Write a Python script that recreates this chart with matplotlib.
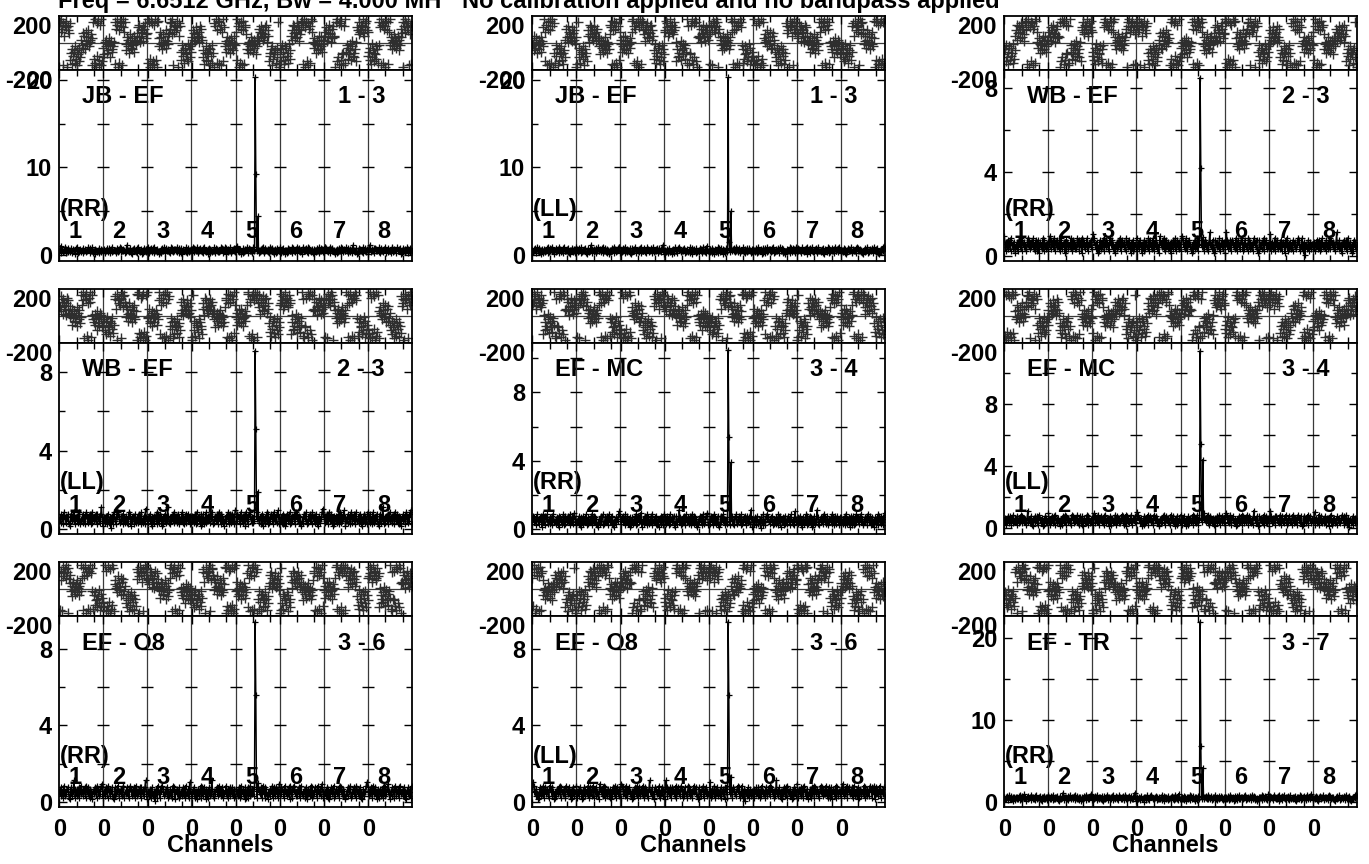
import numpy as np
import matplotlib
matplotlib.use("Agg")
import matplotlib.pyplot as plt
from matplotlib.ticker import FixedLocator, MultipleLocator, NullFormatter

plt.rcParams['font.family'] = ['Liberation Sans', 'DejaVu Sans']
plt.rcParams['font.weight'] = 'bold'

# ---------------- data ----------------
TITLE_LEFT = "Freq = 6.6512 GHz, Bw = 4.000 MH"
TITLE_RIGHT = "No calibration applied and no bandpass applied"
X_LABEL = "Channels"

BASELINES = ["JB - EF", "JB - EF", "WB - EF", "WB - EF", "EF - MC", "EF - MC",
             "EF - O8", "EF - O8", "EF - TR"]
POLS = ["(RR)", "(LL)", "(RR)", "(LL)", "(RR)", "(LL)", "(RR)", "(LL)", "(RR)"]
ANT_PAIRS = ["1 - 3", "1 - 3", "2 - 3", "2 - 3", "3 - 4", "3 - 4", "3 - 6", "3 - 6", "3 - 7"]
IF_LABELS = ["1", "2", "3", "4", "5", "6", "7", "8"]
CHANNEL_TICK_LABELS = ["0", "0", "0", "0", "0", "0", "0", "0"]
N_CHAN = 64
CHANNEL_MINOR = [25, 50]

AMP_TOP = [21.15, 21.15, 8.86, 9.49, 10.9, 11.9, 9.7, 9.7, 22.7]
AMP_BOTTOM = [-0.7, -0.7, -0.24, -0.26, -0.29, -0.38, -0.26, -0.26, -0.6]
AMP_MAJOR = [10, 10, 4, 4, 4, 4, 4, 4, 10]
AMP_MINOR = [5, 5, 2, 2, 2, 2, 2, 2, 5]
PHASE_RANGE = [-200, 200]
PHASE_TICKS = [-200, 200]

SPIKE_IF = 5
SPIKE_CHANNELS = [28, 29, 32]
SPIKE_PEAK = [20.3, 20.3, 8.5, 9.1, 10.5, 11.4, 9.4, 9.4, 22.0]
SPIKE_NEXT = [9.3, 1.5, 4.2, 5.1, 5.4, 5.4, 5.6, 5.6, 6.9]
SPIKE_SIDE = [4.4, 5.0, 0.9, 1.9, 3.9, 4.4, 1.0, 1.3, 4.2]

# which stored IF string each panel starts from, and whether it is read backwards
PANEL_IF_SHIFT = [0, 3, 5, 1, 6, 2, 7, 4, 2]
PANEL_REVERSED = [False, True, False, True, True, False, True, False, True]
PANEL_AMP_SHIFT = [0, 5, 2, 7, 3, 1, 6, 4, 5]

CODE = "0123456789abcdefghijklmnopqrstuvwxyz"
# phase per channel (code level -> -175 + 10*level deg), one string per IF
PHASE_CODE = [
    "uxqzs1wnvty0rupw5a2d8b3f6c19e47bkgpendqjhmrfkiol1x6z30w8y25v1z47",
    "e9ifkahcl7gjbdfix2szv0r3yuw1tzqxhcmfkaoiedlgnbjhpktmvirnqjuswlop",
    "z3x06y1w4v2z5x0ylfqhmdoigkrejnhpsxwoz1uqvrty0nwub5g8c3e9a6h4d7fb",
    "mhrkpjtlonqiumsk7c2a5f9b4e1d8g3aw0uz3ry2xs1vq4ztfjbmhdkgaliecnhg",
    "q5zu0w3sx1ry2tvodhaifcmgjbekh9lflsjqnupkrmtovinr4a8d1f6b9c3e7x20",
    "9d4g7b2f5e8a3h6cnrkvpulqwmtsjoxry2vz0tx4w1su3zyqielhagkcnjdmfbkh",
    "kqntjrmvpoislunm0x4z7w2y5v9a1u3zbg6e9hc5jf8a7di4trxoqvsuzpnwtyrq",
    "8b5e2h7c4a9f6d3gxtz1vw3su0yr2xqzgmdkiofljehnckgmsp0xuzqwtyr1vo2u",
]
# amplitude per channel (code level -> 0.05 + 0.09*level), one string per IF
AMP_CODE = [
    "4637528435607429542869753475826347362958164752835638472945372b64",
    "53748261473659283584716258364c7326475839473582646493725835846273",
    "746358293647518258263947473859623574682964827351473659285384726a",
    "3847562956374819472869536374829545367281746359283648572954738a62",
    "45638271638475923746582958473621463857923574862964738251473659b8",
    "63748529458361725736482938475a6146385729736482954573826164837529",
    "573846293647582148365c7263748259457368295483726136485729736489a2",
    "4638572957364821384759626473892545836279736485293647582854738c61",
]

# ---------------- layout ----------------
W, H = 1369, 864
COL_X = [59, 532, 1004]
ROW_Y = [16, 289, 562]
AX_W = 353
PH_H = 54
AMP_H = 191
FS = 17


def rect(x0, ytop, w, h):
    return [x0 / W, 1 - (ytop + h) / H, w / W, h / H]


def decode_phase(s):
    return np.array([-175 + 10 * CODE.index(ch) for ch in s], dtype=float)


def decode_amp(s):
    return np.array([0.05 + 0.09 * CODE.index(ch) for ch in s], dtype=float)


fig = plt.figure(figsize=(W / 100, H / 100), dpi=100)
fig.patch.set_facecolor('white')

n_if = len(IF_LABELS)
bounds = [k * N_CHAN - 0.5 for k in range(1, n_if)]
major_x = [k * N_CHAN for k in range(n_if)]
minor_x = [k * N_CHAN + m for k in range(n_if) for m in CHANNEL_MINOR]


def style_axes(ax):
    for s in ax.spines.values():
        s.set_linewidth(1.3)
        s.set_color('black')
    ax.set_xlim(-0.5, n_if * N_CHAN - 0.5)
    ax.xaxis.set_major_locator(FixedLocator(major_x))
    ax.xaxis.set_minor_locator(FixedLocator(minor_x))
    ax.tick_params(axis='both', which='both', direction='in', top=True, right=True,
                   labelsize=FS, width=1.0, color='black')
    ax.tick_params(axis='both', which='major', length=6)
    ax.tick_params(axis='both', which='minor', length=4)
    ax.tick_params(axis='y', pad=5)
    ax.tick_params(axis='x', pad=8)
    for b in bounds:
        ax.axvline(b, color='#3a3a3a', lw=0.9, zorder=1)


for p in range(9):
    r, c = divmod(p, 3)
    ax_ph = fig.add_axes(rect(COL_X[c], ROW_Y[r], AX_W, PH_H))
    ax_am = fig.add_axes(rect(COL_X[c], ROW_Y[r] + PH_H, AX_W, AMP_H))

    style_axes(ax_ph)
    ax_ph.set_ylim(*PHASE_RANGE)
    ax_ph.axhline(0, color='#3a3a3a', lw=0.9, zorder=1)

    style_axes(ax_am)
    ax_am.set_ylim(AMP_BOTTOM[p], AMP_TOP[p])
    ax_am.yaxis.set_major_locator(MultipleLocator(AMP_MAJOR[p]))
    ax_am.yaxis.set_minor_locator(MultipleLocator(AMP_MINOR[p]))

    for k in range(n_if):
        ps = PHASE_CODE[(k + PANEL_IF_SHIFT[p]) % n_if]
        as_ = AMP_CODE[(k + PANEL_AMP_SHIFT[p]) % n_if]
        if PANEL_REVERSED[p]:
            ps = ps[::-1]
        else:
            as_ = as_[::-1]
        ph = decode_phase(ps)
        am = decode_amp(as_)
        if k == SPIKE_IF - 1:
            am[SPIKE_CHANNELS[0]] = SPIKE_PEAK[p]
            am[SPIKE_CHANNELS[1]] = SPIKE_NEXT[p]
            am[SPIKE_CHANNELS[2]] = SPIKE_SIDE[p]
        xp = k * N_CHAN + np.arange(len(ph)) * N_CHAN / len(ph)
        xa = k * N_CHAN + np.arange(len(am)) * N_CHAN / len(am)
        ax_ph.plot(xp, ph, ls='none', marker='+', ms=7.5, mew=1.0, color='#2e2e2e', zorder=2)
        ax_am.plot(xa, am, color='black', lw=1.0, marker='+', ms=5, mew=0.9, zorder=3)

    ax_ph.set_yticks(PHASE_TICKS)
    ax_ph.set_yticklabels([str(v) for v in PHASE_TICKS])
    for lab in ax_ph.get_yticklabels():
        lab.set_verticalalignment('top')
        lab.set_fontweight('bold')
    ax_ph.tick_params(axis='y', which='both', length=0)
    ax_ph.xaxis.set_major_formatter(NullFormatter())

    yt = np.arange(AMP_MINOR[p], AMP_TOP[p], AMP_MINOR[p])
    for b in bounds:
        ax_am.plot(np.full(len(yt), b), yt, ls='none', marker='_', ms=8, mew=1.0,
                   color='black', zorder=2)
    for lab in ax_am.get_yticklabels():
        lab.set_fontweight('bold')

    if r == 2:
        ax_am.set_xticklabels(CHANNEL_TICK_LABELS, fontsize=FS, fontweight='bold')
        ax_am.text(0.456, -(846 - 807) / AMP_H, X_LABEL, transform=ax_am.transAxes,
                   ha='center', va='center', fontsize=FS, fontweight='bold')
    else:
        ax_am.xaxis.set_major_formatter(NullFormatter())

    ax_am.text(23 / AX_W, 1 - 27 / AMP_H, BASELINES[p], transform=ax_am.transAxes,
               ha='left', va='center', fontsize=FS, fontweight='bold', zorder=0)
    ax_am.text(326 / AX_W, 1 - 27 / AMP_H, ANT_PAIRS[p], transform=ax_am.transAxes,
               ha='right', va='center', fontsize=FS, fontweight='bold', zorder=0)
    ax_am.text(1 / AX_W, 51 / AMP_H, POLS[p], transform=ax_am.transAxes,
               ha='left', va='center', fontsize=FS, fontweight='bold', zorder=0)
    for k, lab in enumerate(IF_LABELS):
        ax_am.text((k * AX_W / n_if + 16) / AX_W, 29 / AMP_H, lab, transform=ax_am.transAxes,
                   ha='center', va='center', fontsize=FS, fontweight='bold', zorder=0)

fig.text(58 / W, 1 - 8 / H, TITLE_LEFT, ha='left', va='baseline', fontsize=17, fontweight='bold')
fig.text(462 / W, 1 - 8 / H, TITLE_RIGHT, ha='left', va='baseline', fontsize=17, fontweight='bold')

fig.savefig("out.png", dpi=100, facecolor='white')
